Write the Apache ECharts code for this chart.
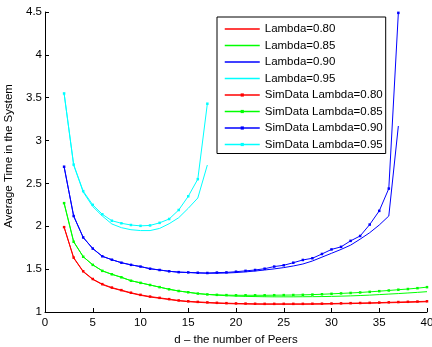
<!DOCTYPE html>
<html>
<head>
<meta charset="utf-8">
<script src="https://cdn.jsdelivr.net/npm/echarts@6/dist/echarts.min.js"></script>
<style>
html,body{margin:0;padding:0;background:#fff;}
#chart{width:432px;height:347px;}
</style>
</head>
<body>
<div id="chart"></div>
<script>
// d values (number of peers)
var dValues = [2,3,4,5,6,7,8,9,10,11,12,13,14,15,16,17,18,19,20,21,22,23,24,25,26,27,28,29,30,31,32,33,34,35,36,37,38,39,40];

// Theoretical curves
var lambda080 = [1.99,1.63,1.47,1.38,1.32,1.28,1.25,1.22,1.195,1.175,1.16,1.145,1.13,1.12,1.113,1.107,1.102,1.098,1.095,1.093,1.091,1.09,1.09,1.09,1.09,1.09,1.091,1.092,1.094,1.096,1.098,1.10,1.102,1.105,1.108,1.11,1.113,1.116,1.12];
var lambda085 = [2.27,1.82,1.645,1.55,1.48,1.44,1.405,1.365,1.34,1.315,1.29,1.265,1.245,1.23,1.215,1.205,1.197,1.19,1.185,1.182,1.18,1.178,1.177,1.177,1.177,1.178,1.179,1.18,1.182,1.185,1.188,1.192,1.197,1.203,1.209,1.215,1.222,1.229,1.237];
var lambda090 = [2.695,2.12,1.87,1.74,1.65,1.61,1.575,1.55,1.53,1.505,1.49,1.475,1.465,1.46,1.455,1.452,1.452,1.455,1.46,1.468,1.478,1.49,1.503,1.518,1.537,1.56,1.595,1.64,1.685,1.73,1.78,1.85,1.925,2.015,2.12,3.17];
var lambda095 = [3.55,2.715,2.40,2.23,2.12,2.027,1.984,1.96,1.95,1.95,1.975,2.03,2.10,2.21,2.33,2.715];

// Simulation curves
var sim080 = [1.99,1.635,1.475,1.385,1.325,1.285,1.255,1.225,1.2,1.18,1.165,1.15,1.135,1.125,1.118,1.112,1.107,1.103,1.1,1.098,1.096,1.095,1.095,1.095,1.095,1.095,1.096,1.097,1.099,1.101,1.103,1.105,1.107,1.11,1.113,1.116,1.119,1.122,1.125];
var sim085 = [2.27,1.82,1.645,1.55,1.48,1.44,1.405,1.365,1.34,1.315,1.29,1.265,1.245,1.23,1.215,1.205,1.2,1.197,1.195,1.195,1.195,1.195,1.196,1.197,1.198,1.2,1.203,1.207,1.212,1.217,1.222,1.228,1.235,1.243,1.251,1.26,1.268,1.278,1.29];
var sim090 = [2.695,2.12,1.87,1.74,1.65,1.61,1.575,1.55,1.53,1.505,1.49,1.475,1.465,1.462,1.458,1.455,1.46,1.462,1.47,1.48,1.49,1.505,1.53,1.545,1.575,1.607,1.627,1.677,1.73,1.76,1.83,1.887,2.02,2.18,2.44,4.49];
var sim095 = [3.55,2.72,2.41,2.25,2.14,2.065,2.035,2.015,2.005,2.01,2.04,2.085,2.19,2.35,2.55,3.43];

var xTicks = [0,5,10,15,20,25,30,35,40];
var yTicks = [1,1.5,2,2.5,3,3.5,4,4.5];

function pairs(arr){ return arr.map(function(v,i){ return [dValues[i], v]; }); }

var theoryNames = ['Lambda=0.80','Lambda=0.85','Lambda=0.90','Lambda=0.95'];
var simNames = ['SimData Lambda=0.80','SimData Lambda=0.85','SimData Lambda=0.90','SimData Lambda=0.95'];
var colors = ['#ff0000','#00ff00','#0000ff','#00ffff'];
var theory = [lambda080, lambda085, lambda090, lambda095];
var sims = [sim080, sim085, sim090, sim095];

var series = [];
theory.forEach(function(arr, i){
  series.push({
    name: theoryNames[i], type: 'line', data: pairs(arr),
    symbol: 'circle', showSymbol: false, symbolSize: 0,
    lineStyle: {color: colors[i], width: 1}, itemStyle: {color: colors[i]},
    silent: true, z: 2
  });
});
sims.forEach(function(arr, i){
  series.push({
    name: simNames[i], type: 'line', data: pairs(arr),
    symbol: 'rect', showSymbol: true, symbolSize: 2.5,
    lineStyle: {color: colors[i], width: 1}, itemStyle: {color: colors[i]},
    silent: true, z: 3
  });
});

var legendData = theoryNames.map(function(n, i){
    return {name: n, itemStyle: {opacity: 0}, lineStyle: {color: colors[i], width: 1.5, opacity: 1}};
  }).concat(simNames.map(function(n, i){
    return {name: n, itemStyle: {color: colors[i]}, lineStyle: {color: colors[i], width: 1.5, opacity: 1}};
  }));

var font = 'Liberation Sans, Arial, Helvetica, sans-serif';
var fs = 11.5;
var chart = echarts.init(document.getElementById('chart'), null, {renderer: 'canvas'});
chart.setOption({
  animation: false,
  backgroundColor: '#ffffff',
  grid: {left: 45, right: 5, top: 12, bottom: 35, containLabel: false, outerBoundsMode: 'none'},
  legend: {
    data: legendData,
    orient: 'vertical',
    left: 217, top: 17,
    padding: [5, 3, 2, 7],
    itemWidth: 35, itemHeight: 4, itemGap: 2.5,
    backgroundColor: '#fff',
    borderColor: '#000', borderWidth: 1,
    textStyle: {fontFamily: font, fontSize: fs, color: '#000', lineHeight: 14},
    selectedMode: false
  },
  xAxis: {
    type: 'value', min: xTicks[0], max: xTicks[xTicks.length-1], interval: xTicks[1]-xTicks[0],
    name: 'd \u2013 the number of Peers', nameLocation: 'middle', nameGap: 17,
    nameTextStyle: {fontFamily: font, fontSize: fs, color: '#000'},
    axisLine: {show: true, lineStyle: {color: '#000', width: 1}},
    axisTick: {show: true, inside: true, length: 4, lineStyle: {color: '#000'}},
    axisLabel: {fontFamily: font, fontSize: fs, color: '#000', margin: 5},
    splitLine: {show: false}
  },
  yAxis: {
    type: 'value', min: yTicks[0], max: yTicks[yTicks.length-1], interval: yTicks[1]-yTicks[0],
    name: 'Average Time in the System', nameLocation: 'middle', nameGap: 22,
    nameTextStyle: {fontFamily: font, fontSize: fs, color: '#000', padding: [0, 0, 0, 12]},
    axisLine: {show: true, lineStyle: {color: '#000', width: 1}},
    axisTick: {show: true, inside: true, length: 4, lineStyle: {color: '#000'}},
    axisLabel: {fontFamily: font, fontSize: fs, color: '#000', margin: 3},
    splitLine: {show: false}
  },
  series: series
});
</script>
</body>
</html>
